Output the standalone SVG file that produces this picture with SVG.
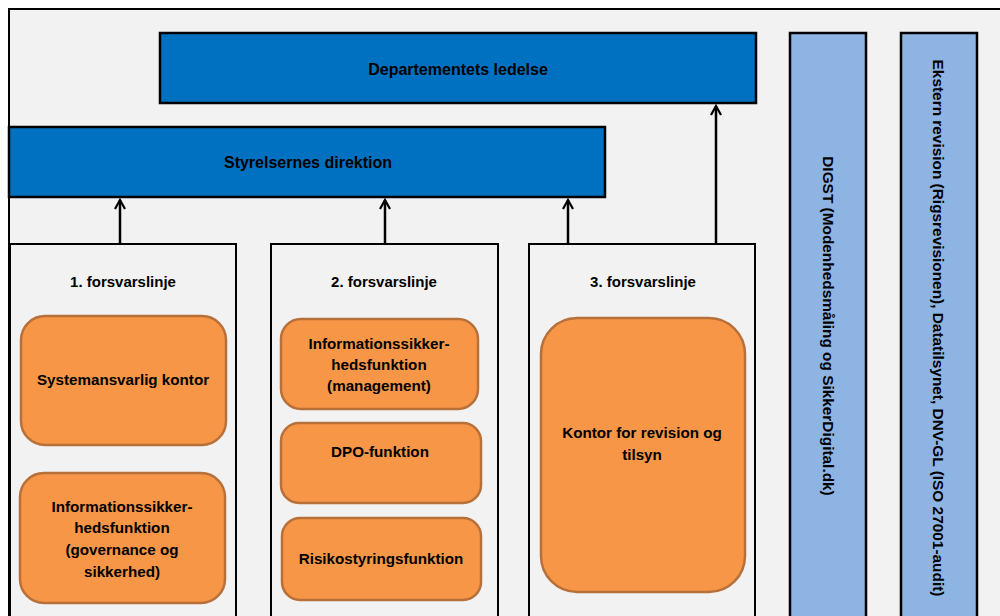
<svg xmlns="http://www.w3.org/2000/svg" width="1000" height="616" viewBox="0 0 1000 616">
<defs>
<style>
.t{font-family:"Liberation Sans",Arial,sans-serif;font-weight:bold;fill:#000;text-anchor:middle}
.hdr{font-size:16px}
.org{font-size:15.2px}
.lbl{font-size:15px}
.vt{font-size:15.4px}
.dark{fill:#0070c0;stroke:#000;stroke-width:2.5}
.light{fill:#8eb4e3;stroke:#000;stroke-width:2.5}
.line{fill:#f2f2f2;stroke:#000;stroke-width:2}
.o{fill:#f79646;stroke:#b8703a;stroke-width:2.5}
.c{stroke:#000;stroke-width:2.5;fill:none}
</style>
<marker id="ah" viewBox="0 0 12 12" refX="10" refY="6" markerWidth="12" markerHeight="12" markerUnits="userSpaceOnUse" orient="auto">
<path d="M1,1 L10,6 L1,11" fill="none" stroke="#000" stroke-width="2.2"/>
</marker>
</defs>
<rect x="0" y="0" width="1000" height="616" fill="#fff"/>
<rect x="9" y="9" width="1000" height="620" fill="#f2f2f2" stroke="#000" stroke-width="2"/>

<g id="departementets-ledelse">
<rect class="dark" x="160" y="33" width="596" height="70"/>
<text class="t hdr" x="458" y="75">Departementets ledelse</text>
</g>
<g id="styrelsernes-direktion">
<rect class="dark" x="9" y="127" width="596" height="70"/>
<text class="t hdr" x="308" y="168">Styrelsernes direktion</text>
</g>

<g id="forsvarslinje-1">
<rect class="line" x="10" y="244" width="226" height="390"/>
<text class="t lbl" x="123" y="287">1. forsvarslinje</text>
</g>
<g id="forsvarslinje-2">
<rect class="line" x="271" y="244" width="227" height="390"/>
<text class="t lbl" x="384" y="287">2. forsvarslinje</text>
</g>
<g id="forsvarslinje-3">
<rect class="line" x="529" y="244" width="226" height="390"/>
<text class="t lbl" x="643" y="287">3. forsvarslinje</text>
</g>

<g id="systemansvarlig-kontor">
<rect class="o" x="21" y="316" width="205" height="129" rx="24"/>
<text class="t org" x="123" y="385">Systemansvarlig kontor</text>
</g>
<g id="infosik-governance">
<rect class="o" x="20" y="473" width="205" height="130" rx="24"/>
<text class="t org" x="122" y="512">Informationssikker-</text>
<text class="t org" x="122" y="533">hedsfunktion</text>
<text class="t org" x="122" y="555">(governance og</text>
<text class="t org" x="122" y="577">sikkerhed)</text>
</g>
<g id="infosik-management">
<rect class="o" x="281" y="319" width="197" height="90" rx="20"/>
<text class="t org" x="379" y="349">Informationssikker-</text>
<text class="t org" x="379" y="370">hedsfunktion</text>
<text class="t org" x="379" y="391">(management)</text>
</g>
<g id="dpo-funktion">
<rect class="o" x="281" y="423" width="200" height="80" rx="18"/>
<text class="t org" x="380" y="457">DPO-funktion</text>
</g>
<g id="risikostyringsfunktion">
<rect class="o" x="282" y="518" width="199" height="82" rx="18"/>
<text class="t org" x="381" y="564">Risikostyringsfunktion</text>
</g>
<g id="kontor-revision">
<rect class="o" x="541" y="318" width="204" height="274" rx="36"/>
<text class="t org" x="642" y="438">Kontor for revision og</text>
<text class="t org" x="642" y="460">tilsyn</text>
</g>

<g id="digst">
<rect class="light" x="790" y="33" width="76" height="600"/>
<text class="t vt" transform="translate(823,326) rotate(90)">DIGST (Modenhedsmåling og SikkerDigital.dk)</text>
</g>
<g id="ekstern-revision">
<rect class="light" x="901" y="33" width="76" height="600"/>
<text class="t vt" transform="translate(933,328) rotate(90)">Ekstern revision (Rigsrevisionen), Datatilsynet, DNV-GL (ISO 27001-audit)</text>
</g>

<g id="connectors">
<line class="c" x1="120" y1="244" x2="120" y2="200" marker-end="url(#ah)"/>
<line class="c" x1="385" y1="244" x2="385" y2="200" marker-end="url(#ah)"/>
<line class="c" x1="568" y1="244" x2="568" y2="200" marker-end="url(#ah)"/>
<line class="c" x1="716" y1="244" x2="716" y2="106" marker-end="url(#ah)"/>
</g>
</svg>
